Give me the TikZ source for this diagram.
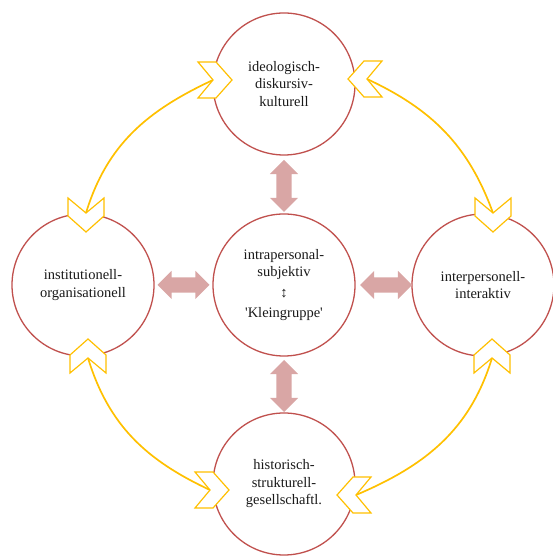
\documentclass[tikz,border=0pt]{standalone}
\usepackage{fontspec}
\setmainfont{Liberation Serif}
\usetikzlibrary{shapes.arrows}

\definecolor{ringred}{RGB}{192,80,77}
\definecolor{arrowpink}{RGB}{217,166,165}
\definecolor{gold}{RGB}{255,192,0}

\tikzset{
  ring/.style={circle, draw=ringred, line width=1.3pt, fill=white,
    minimum size=142pt, inner sep=0pt, align=center, text=black!90,
    font=\fontsize{14.5}{17.5}\selectfont},
  fatarrow/.style={double arrow, fill=arrowpink, draw=none,
    minimum height=52pt, inner xsep=0pt, inner ysep=7.5pt,
    double arrow head extend=6.5pt},
  link/.style={draw=gold, line width=1.7pt},
  chevron/.pic={
    \draw[draw=gold, fill=white, line width=1.2pt, line join=miter]
      (0,0) -- (-15,18) -- (3,18) -- (19,0) -- (3,-18) -- (-15,-18) -- cycle;
  }
}

\begin{document}
\begin{tikzpicture}[x=1pt, y=1pt]

    \useasboundingbox (0,0) rectangle (553,556);

    %draw circles:
    \node[ring] (ideo) at (284,472) {ideologisch-\\diskursiv-\\kulturell};
    \node[ring] (intra) at (284,271) {intrapersonal-\\subjektiv\\[3pt]↕\\[3pt]\textquotesingle Kleingruppe\textquotesingle};
    \node[ring] (inst) at (83,271) {institutionell-\\organisationell};
    \node[ring] (inter) at (483,271) {interpersonell-\\interaktiv};
    \node[ring] (hist) at (284,72) {historisch-\\strukturell-\\gesellschaftl.};

    %fat arrows to the middle:
    \node[fatarrow, rotate=90] (aup) at (284,370) {};
    \node[fatarrow, rotate=90] (adown) at (284,170) {};
    \node[fatarrow] (aleft) at (183.5,271) {};
    \node[fatarrow] (aright) at (386,271) {};

    %ends of the outer links:
    \coordinate (LT) at (86,343);
    \coordinate (TL) at (213,476);
    \coordinate (TR) at (367,477);
    \coordinate (RT) at (493,343);
    \coordinate (RB) at (492,198);
    \coordinate (BR) at (356,61);
    \coordinate (BL) at (210,66);
    \coordinate (LB) at (88,198);

    %draw outer links:
    \draw[link] (LT) to[out=73, in=205] (TL);
    \draw[link] (TR) to[out=-25, in=110] (RT);
    \draw[link] (RB) to[out=-107, in=23] (BR);
    \draw[link] (LB) to[out=-73, in=155] (BL);

    %chevron heads:
    \pic[rotate=-90] at (LT) {chevron};
    \pic at (TL) {chevron};
    \pic[rotate=180] at (TR) {chevron};
    \pic[rotate=-90] at (RT) {chevron};
    \pic[rotate=90] at (RB) {chevron};
    \pic[rotate=180] at (BR) {chevron};
    \pic at (BL) {chevron};
    \pic[rotate=90] at (LB) {chevron};

\end{tikzpicture}
\end{document}
